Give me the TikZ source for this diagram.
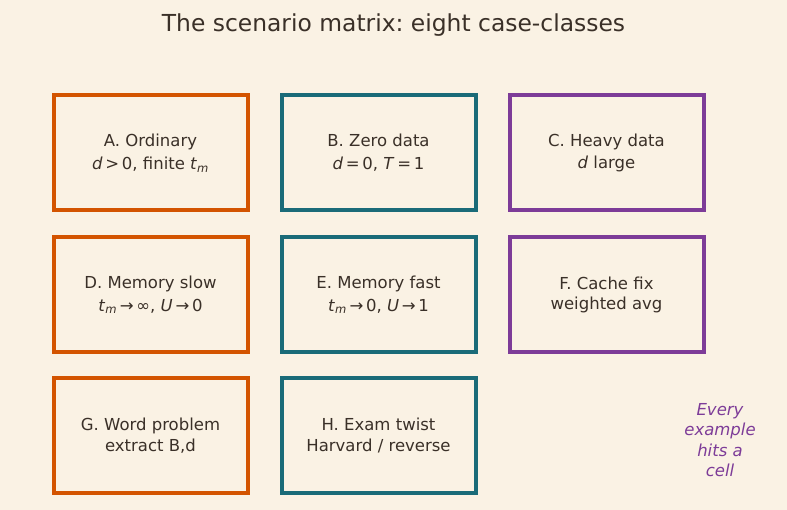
\documentclass[tikz,border=0pt]{standalone}
\usepackage{fontspec}
\setmainfont{DejaVu Sans}
\frenchspacing
\definecolor{bg}{HTML}{FAF2E4}
\definecolor{ink}{HTML}{3A3028}
\definecolor{corange}{HTML}{D35400}
\definecolor{cteal}{HTML}{1A6B78}
\definecolor{cpurple}{HTML}{7D3C98}
\newcommand{\vi}[1]{\textit{#1}}
\begin{document}
\begin{tikzpicture}[x=1pt,y=-1pt,
  cellbox/.style={draw, line width=4pt, minimum width=194pt, minimum height=115pt,
    align=center, text=ink, font=\fontsize{16.5}{20.5}\selectfont, inner sep=0pt},
  obox/.style={cellbox, draw=corange},
  tbox/.style={cellbox, draw=cteal},
  pbox/.style={cellbox, draw=cpurple}]
\fill[bg] (0,0) rectangle (787,510);
\useasboundingbox (0,0) rectangle (787,510);
\node[text=ink, font=\fontsize{23.4}{28}\selectfont] (title) at (393.5,25) {The scenario matrix: eight case-classes};
\node[obox] (A) at (150.5,153) {A. Ordinary\\[2.5pt] \vi{d}\,>\,0, finite \vi{t}\textsubscript{\vi{m}}};
\node[tbox] (B) at (378.5,153) {B. Zero data\\[2.5pt] \vi{d}\,=\,0, \vi{T}\,=\,1};
\node[pbox] (C) at (606.5,153) {C. Heavy data\\[1.5pt] \vi{d} large};
\node[obox] (D) at (150.5,295) {D. Memory slow\\[2pt] \vi{t}\textsubscript{\vi{m}}\,→\,∞, \vi{U}\,→\,0};
\node[tbox] (E) at (378.5,295) {E. Memory fast\\[2pt] \vi{t}\textsubscript{\vi{m}}\,→\,0, \vi{U}\,→\,1};
\node[pbox] (F) at (606.5,295) {F. Cache fix\\ weighted avg};
\node[obox] (G) at (150.5,435.5) {G. Word problem\\ extract B,d};
\node[tbox] (H) at (378.5,435.5) {H. Exam twist\\ Harvard / reverse};
\node[align=center, text=cpurple, font=\fontsize{16.5}{20.5}\selectfont\itshape] (note) at (720,440) {Every\\example\\hits a\\cell};
\end{tikzpicture}
\end{document}
